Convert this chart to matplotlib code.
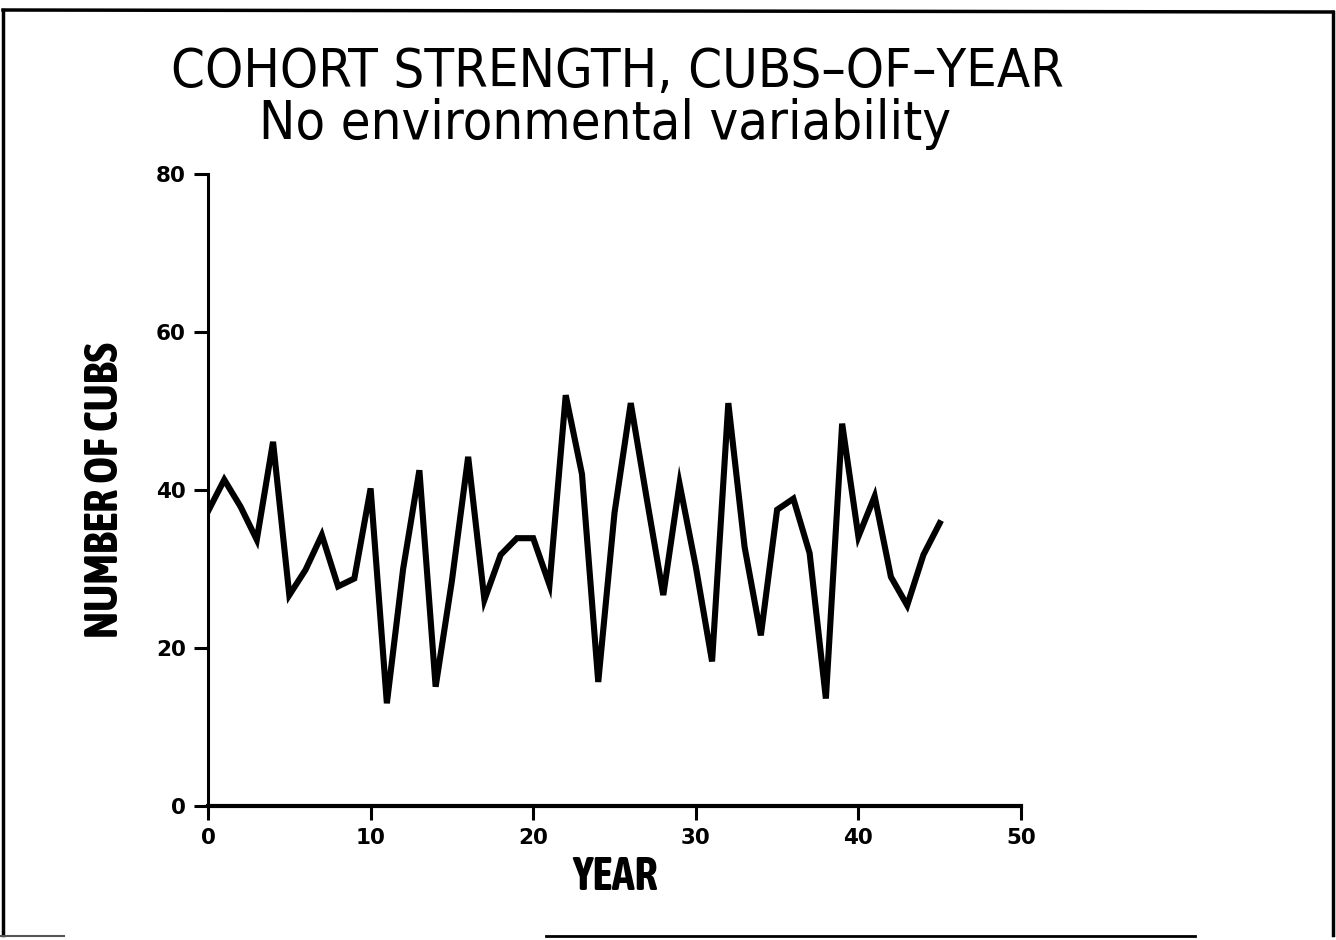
import matplotlib
matplotlib.use('Agg')
import matplotlib.pyplot as plt
from matplotlib.lines import Line2D

# cohort strength, one value per year 0..45
years = list(range(0, 46))
cubs = [37.3, 41.3, 37.9, 33.7, 46.1, 26.7, 29.9, 34.3, 27.8, 28.8,
        40.2, 13.0, 30.0, 42.5, 15.1, 28.5, 44.2, 26.1, 31.8, 33.9,
        33.9, 28.0, 52.0, 42.0, 15.7, 37.1, 51.0, 38.7, 26.7, 40.8,
        30.3, 18.3, 51.0, 32.8, 21.6, 37.5, 38.9, 32.0, 13.6, 48.4,
        34.1, 39.2, 29.0, 25.4, 31.8, 35.8]

x_ticks = [0, 10, 20, 30, 40, 50]
y_ticks = [0, 20, 40, 60, 80]

title_1 = "COHORT STRENGTH, CUBS\u2013OF\u2013YEAR"
title_2 = "No environmental variability"

W, H = 1336, 940
fig = plt.figure(figsize=(W / 100, H / 100), dpi=100)

# axes box in pixel terms: x 208..1021, y 174..806 (from top)
ax = fig.add_axes([208 / W, 1 - 806 / H, (1021 - 208) / W, (806 - 174) / H])
ax.plot(years, cubs, color='black', lw=4.4, solid_joinstyle='miter')

ax.set_xlim(0, 50)
ax.set_ylim(0, 80)
ax.set_xticks(x_ticks)
ax.set_yticks(y_ticks)
ax.spines['top'].set_visible(False)
ax.spines['right'].set_visible(False)
ax.spines['left'].set_linewidth(2.2)
ax.spines['bottom'].set_linewidth(3.0)
ax.tick_params(direction='out', length=10, width=2.2, pad=6)

tick_font = dict(family='DejaVu Sans', weight='bold', size=15.5)
ax.set_xticklabels([str(t) for t in x_ticks], fontdict=tick_font)
ax.set_yticklabels([str(t) for t in y_ticks], fontdict=tick_font)

label_font = dict(family=['Asap Condensed', 'DejaVu Sans'], weight='bold', size=33)
ax.set_xlabel("YEAR", fontdict=label_font, labelpad=4)
ax.set_ylabel("NUMBER OF CUBS", fontdict=label_font, labelpad=20)

title_font = dict(family='DejaVu Sans', stretch='condensed', size=39)
fig.text(617 / W, 1 - 72 / H, title_1, ha='center', va='center', **title_font)
fig.text(605 / W, 1 - 124 / H, title_2, ha='center', va='center', **title_font)

# page frame around the figure
def frame_line(xs, ys, lw=2.5, color='black'):
    fig.add_artist(Line2D([x / W for x in xs], [1 - y / H for y in ys],
                          transform=fig.transFigure, color=color, lw=lw))

frame_line([3, 1333], [10, 12])
frame_line([3, 3], [10, 935])
frame_line([1333, 1333], [12, 935])
frame_line([0, 64], [936, 936], lw=1.5, color='#555555')
frame_line([546, 1195], [936, 936], lw=2.0)

fig.savefig('out.png', dpi=100)
